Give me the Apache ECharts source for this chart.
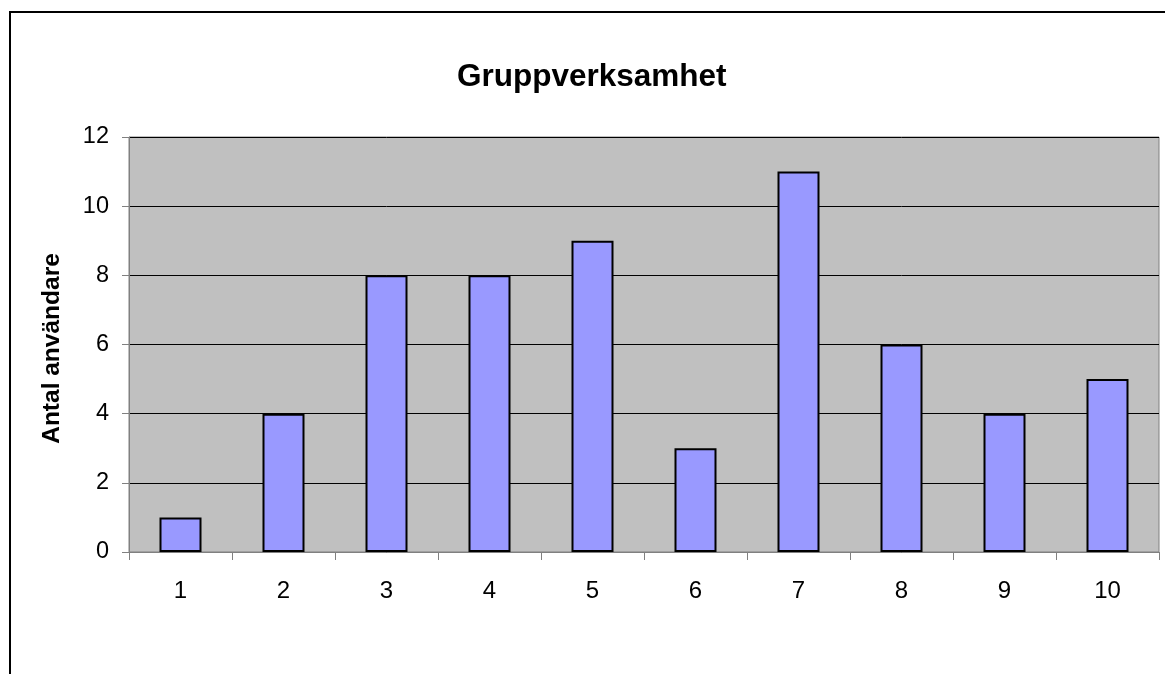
<!DOCTYPE html>
<html>
<head>
<meta charset="utf-8">
<script src="https://cdn.jsdelivr.net/npm/echarts@6/dist/echarts.min.js"></script>
<style>
  html, body { margin: 0; padding: 0; background: #fff; }
  #wrap { position: relative; width: 1165px; height: 674px; overflow: hidden; }
  #frame { position: absolute; left: 9px; top: 11px; width: 1300px; height: 800px;
           border-left: 2px solid #000; border-top: 2px solid #000; }
  #main { position: absolute; left: 0; top: 0; width: 1165px; height: 674px; }
</style>
</head>
<body>
<div id="wrap">
  <div id="frame"></div>
  <div id="main"></div>
</div>
<script>
  // kategorier och värden
  const categories = ['1', '2', '3', '4', '5', '6', '7', '8', '9', '10'];
  const antal = [1, 4, 8, 8, 9, 3, 11, 6, 4, 5];
  const titel = 'Gruppverksamhet';
  const yNamn = 'Antal användare';

  const myChart = echarts.init(document.getElementById('main'));
  const font = 'Liberation Sans, Arial, sans-serif';

  const option = {
    animation: false,
    title: {
      text: titel,
      left: 452,
      top: 56,
      textStyle: { fontFamily: font, fontSize: 31.5, fontWeight: 'bold', color: '#000' }
    },
    grid: {
      left: 129,
      top: 137,
      right: 6,
      bottom: 122,
      show: true,
      backgroundColor: '#C0C0C0',
      borderColor: '#808080',
      borderWidth: 1
    },
    xAxis: {
      type: 'category',
      data: categories,
      boundaryGap: true,
      axisLine: { lineStyle: { color: '#808080', width: 1 } },
      axisTick: { show: true, alignWithLabel: false, length: 8, lineStyle: { color: '#808080' } },
      axisLabel: { margin: 27, fontFamily: font, fontSize: 24, color: '#000' },
      splitLine: { show: false }
    },
    yAxis: {
      type: 'value',
      min: 0,
      max: 12,
      interval: 2,
      name: yNamn,
      nameLocation: 'middle',
      nameGap: 64,
      nameRotate: 90,
      nameTextStyle: { fontFamily: font, fontSize: 24.5, fontWeight: 'bold', color: '#000', padding: [0, 8, 0, 0] },
      axisLine: { show: true, lineStyle: { color: '#808080', width: 1 } },
      axisTick: { show: true, length: 7, lineStyle: { color: '#808080' } },
      axisLabel: { margin: 20, fontFamily: font, fontSize: 23.5, color: '#000' },
      splitLine: { show: true, lineStyle: { color: '#000', width: 1 } }
    },
    series: [
      {
        type: 'bar',
        data: antal,
        barWidth: 42,
        itemStyle: { color: '#9999FF', borderColor: '#000', borderWidth: 2 }
      }
    ]
  };
  myChart.setOption(option);
</script>
</body>
</html>
